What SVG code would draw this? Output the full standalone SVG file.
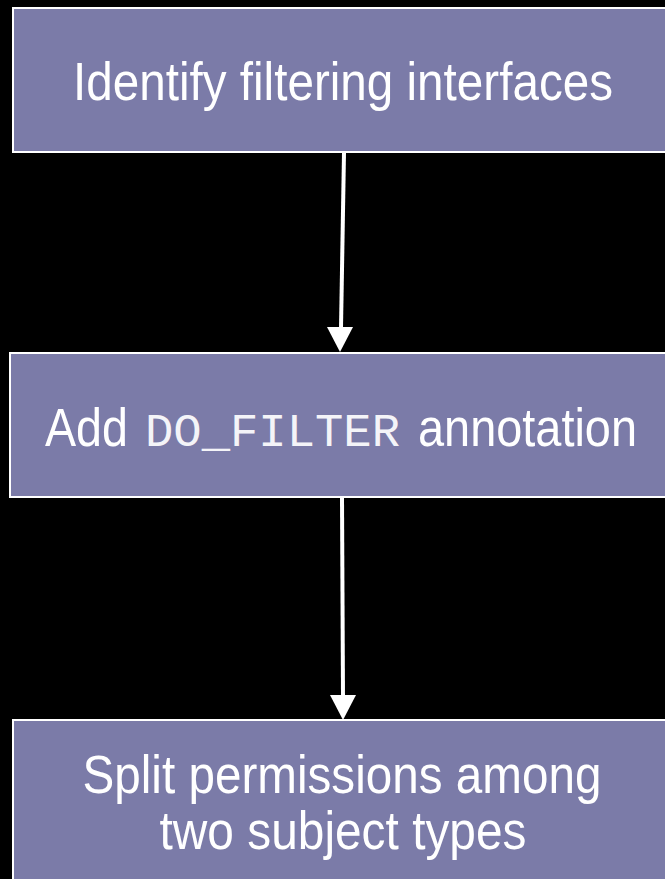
<svg xmlns="http://www.w3.org/2000/svg" width="665" height="879" viewBox="0 0 665 879">
  <style>
    .box { fill: #7b7ba8; stroke: #ffffff; stroke-width: 2; }
    .label { font-family: "Liberation Sans", Arial, sans-serif; font-size: 53px; fill: #ffffff; }
    .mid { text-anchor: middle; }
    .mono { font-family: "Liberation Mono", "Courier New", monospace; font-size: 46px; fill: #f4f4f8; }
    .edge { stroke: #ffffff; stroke-width: 4; fill: none; }
    .head { fill: #ffffff; }
  </style>
  <rect x="0" y="0" width="665" height="879" fill="#000000"/>

  <g id="node-identify">
    <rect class="box" x="13" y="8" width="662" height="144"/>
    <text class="label mid" x="343" y="100" textLength="540" lengthAdjust="spacingAndGlyphs">Identify filtering interfaces</text>
  </g>

  <g id="node-annotate">
    <rect class="box" x="10" y="353" width="665" height="144"/>
    <text class="label" x="45" y="446" textLength="83" lengthAdjust="spacingAndGlyphs">Add</text>
    <text class="mono" x="145" y="446" textLength="255" lengthAdjust="spacingAndGlyphs">DO_FILTER</text>
    <text class="label" x="418" y="446" textLength="219" lengthAdjust="spacingAndGlyphs">annotation</text>
  </g>

  <g id="node-split">
    <rect class="box" x="13" y="720" width="662" height="180"/>
    <text class="label mid" x="342" y="793" textLength="519" lengthAdjust="spacingAndGlyphs">Split permissions among</text>
    <text class="label mid" x="343" y="849" textLength="367" lengthAdjust="spacingAndGlyphs">two subject types</text>
  </g>

  <g id="connectors">
    <line class="edge" x1="344" y1="153" x2="341" y2="328"/>
    <polygon class="head" points="327,327 353,327 340,352"/>
    <line class="edge" x1="342" y1="498" x2="343" y2="696"/>
    <polygon class="head" points="330,695 356,695 343,720"/>
  </g>
</svg>
